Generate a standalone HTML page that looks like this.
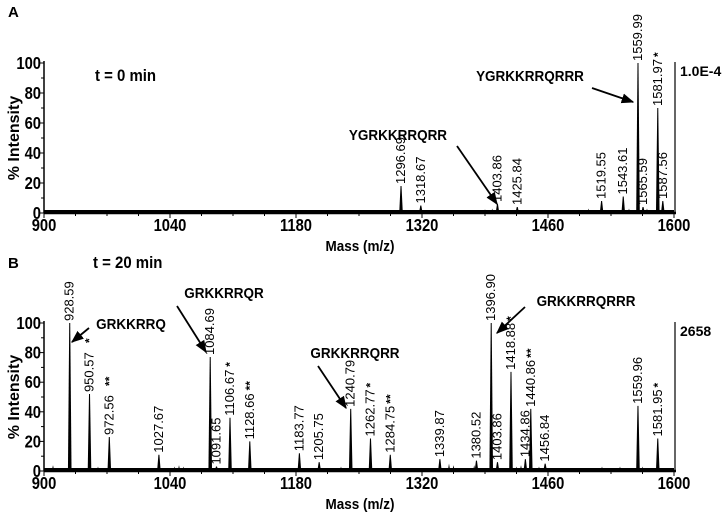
<!DOCTYPE html>
<html><head><meta charset="utf-8">
<style>
html,body{margin:0;padding:0;background:#fff;}
svg{display:block;}
.b{font-family:"Liberation Sans",Arial,sans-serif;font-weight:bold;}
.n{font-family:"Liberation Sans",Arial,sans-serif;}
</style></head>
<body>
<svg id="chart" width="723" height="515" xmlns="http://www.w3.org/2000/svg"></svg>
<script>
// ---- data ----
const xTicks = [900, 1040, 1180, 1320, 1460, 1600];
const yTicks = [0, 20, 40, 60, 80, 100];
// Panel A (t = 0 min)
const aMasses = [1296.69, 1318.67, 1403.86, 1425.84, 1519.55, 1543.61, 1559.99, 1565.59, 1581.97, 1587.56];
const aIntens = [18, 5, 6, 4, 8, 11, 100, 4, 70, 8];
const aStars  = ["", "", "", "", "", "", "", "", "*", ""];
const aMinorMasses = [1010, 1340, 1350, 1365, 1375, 1390, 1398, 1410, 1440, 1450, 1470, 1490, 1505, 1530, 1550, 1570, 1595];
const aMinorIntens = [1.5, 1.5, 2, 1.5, 2, 2.5, 3, 2, 2, 1.5, 2, 1.5, 3, 2, 3, 3, 2];
// Panel B (t = 20 min)
const bMasses = [928.59, 950.57, 972.56, 1027.67, 1084.69, 1091.65, 1106.67, 1128.66, 1183.77, 1205.75, 1240.79, 1262.77, 1284.75, 1339.87, 1380.52, 1396.90, 1403.86, 1418.88, 1434.86, 1440.86, 1456.84, 1559.96, 1581.95];
const bIntens = [100, 52, 23, 11, 77, 3, 36, 20, 12, 6, 42, 22, 11, 8, 7, 100, 6, 67, 8, 42, 5, 44, 22];
const bStars  = ["", "*", "**", "", "", "", "*", "**", "", "", "", "*", "**", "", "", "", "", "*", "", "**", "", "", "*"];
const bMinorMasses = [910, 960, 985, 1000, 1045, 1050, 1055, 1065, 1070, 1100, 1115, 1140, 1160, 1225, 1230, 1250, 1270, 1295, 1310, 1350, 1355, 1378, 1425, 1430, 1450, 1520, 1540, 1565];
const bMinorIntens = [4, 3, 2, 2, 3, 4, 3, 2, 2, 2, 2, 2, 1.5, 2, 3, 2, 2, 2, 2, 5, 4, 4, 3, 4, 3, 3, 3, 3];

const NS = "http://www.w3.org/2000/svg";
const svg = document.getElementById('chart');
function mk(tag, attrs, parent){
  const e = document.createElementNS(NS, tag);
  for (const k in attrs) e.setAttribute(k, attrs[k]);
  (parent||svg).appendChild(e);
  return e;
}
const X0 = 44, X1 = 674;
function xs(m){ return X0 + (m - 900) / 700 * (X1 - X0); }

const defs = mk('defs', {});
const mrk = mk('marker', {id:'ah', viewBox:'0 0 10 10', refX:'9', refY:'5', markerWidth:'7', markerHeight:'7', orient:'auto'}, defs);
mk('path', {d:'M0,1 L10,5 L0,9 Z', fill:'#000'}, mrk);

function panel(cfg){
  const g = mk('g', {});
  
  
  const ys = v => cfg.y0 - v / 100 * (cfg.y0 - cfg.y100);
  const yax = mk('line', {x1:X0, y1:cfg.y100 - 2, x2:X0, y2:cfg.y0, stroke:'#000', 'stroke-width':1.5}, g);
  
  
  for (let v = 0; v <= 100; v += 10) {
    const major = v % 20 === 0;
    mk('line', {x1:X0 - (major ? 5 : 3), y1:ys(v), x2:X0, y2:ys(v), stroke:'#000', 'stroke-width':1}, g);
  }
  yTicks.forEach(v => {
    const t = mk('text', {x:X0 - 3, y:ys(v) + 6, 'text-anchor':'end', 'font-size':'18', class:'b', transform:`translate(${X0-3},0) scale(0.82,1) translate(${-(X0-3)},0)`}, g);
    t.textContent = v;
    
    
  });
  const xax = mk('line', {x1:X0, y1:cfg.y0, x2:X1 + 2, y2:cfg.y0, stroke:'#000', 'stroke-width':2.5}, g);
  
  
  for (let m = 900; m <= 1600; m += 35) {
    const major = (m - 900) % 140 === 0;
    mk('line', {x1:xs(m), y1:cfg.y0, x2:xs(m), y2:cfg.y0 + (major ? 5 : 3), stroke:'#000', 'stroke-width':1}, g);
  }
  xTicks.forEach(m => {
    const cx = xs(m);
    const t = mk('text', {x:cx, y:cfg.y0 + 18, 'text-anchor':'middle', 'font-size':'18', class:'b', transform:`translate(${cx},0) scale(0.82,1) translate(${-cx},0)`}, g);
    t.textContent = m;
    
    
  });
  mk('line', {x1:X1 + 1, y1:cfg.y100 - 1, x2:X1 + 1, y2:cfg.y0, stroke:'#000', 'stroke-width':1.2}, g);
  const sc = mk('text', {x:680, y:cfg.y100 + 13, 'font-size':'14', class:'b'}, g);
  sc.textContent = cfg.scale;
  
  
  const yc = (cfg.y0 + cfg.y100) / 2;
  const yt = mk('text', {x:14, y:yc, 'text-anchor':'middle', 'font-size':'16', class:'b', transform:`rotate(-90 14 ${yc}) translate(0,5)`}, g);
  yt.textContent = '% Intensity';
  
  
  const xt = mk('text', {x:360, y:cfg.xTitleY, 'text-anchor':'middle', 'font-size':'15', class:'b', transform:`translate(360,0) scale(0.9,1) translate(-360,0)`}, g);
  xt.textContent = 'Mass (m/z)';
  
  
  cfg.minorM.forEach((m, i) => {
    const x = xs(m);
    const p = mk('path', {d:`M${x-1.2},${cfg.y0} L${x},${ys(cfg.minorI[i])} L${x+1.2},${cfg.y0} Z`, fill:'#000'}, g);
    
    
  });
  mk('line', {x1:X0, y1:cfg.y0 - 2, x2:X1, y2:cfg.y0 - 2, stroke:'#000', 'stroke-width':2}, g);
  cfg.masses.forEach((m, i) => {
    const x = xs(m), top = ys(cfg.intens[i]);
    const p = mk('path', {d:`M${x-1.8},${cfg.y0} L${x-0.5},${top} L${x+0.5},${top} L${x+1.8},${cfg.y0} Z`, fill:'#000'}, g);
    
    
    const lx = x + 4, ly = top - 2;
    const lbl = mk('text', {x:lx, y:ly, 'font-size':'13', class:'n', transform:`rotate(-90 ${lx} ${ly})`}, g);
    lbl.textContent = m.toFixed(2);
    
    
    if (cfg.stars[i]) {
      const sx = x - 0.5, sy = ly - 48;
      const st = mk('text', {x:sx, y:sy, 'font-size':'12', class:'b', 'text-anchor':'middle', transform:`rotate(-90 ${sx} ${sy})`}, g);
      st.setAttribute('text-anchor', 'start');
      st.setAttribute('transform', `rotate(-90 ${lx} ${sy})`);
      st.setAttribute('x', lx + 1);
      st.textContent = cfg.stars[i];
      
      
    }
  });
  cfg.notes.forEach(n => {
    const t = mk('text', {x:n.tx, y:n.ty, 'text-anchor':'middle', 'font-size':'15', class:'b', transform:`translate(${n.tx},0) scale(0.9,1) translate(${-n.tx},0)`}, g);
    t.textContent = n.text;
    
    
    const a = mk('line', {x1:n.ax1, y1:n.ay1, x2:n.ax2, y2:n.ay2, stroke:'#000', 'stroke-width':1.8, 'marker-end':'url(#ah)'}, g);
    
    
  });
  const pl = mk('text', {x:8, y:cfg.letterY, 'font-size':'15', class:'b'}, g);
  pl.textContent = cfg.letter;
  
  
  const tl = mk('text', {x:cfg.timeX, y:cfg.timeY, 'font-size':'17', class:'b', transform:`translate(${cfg.timeX},0) scale(0.88,1) translate(${-cfg.timeX},0)`}, g);
  tl.textContent = cfg.time;
  
  
}

panel({name:'panel-a', y0:213, y100:63, xTitleY:251, scale:'1.0E-4', letter:'A', letterY:17,
  time:'t = 0 min', timeX:95, timeY:81,
  masses:aMasses, intens:aIntens, stars:aStars, minorM:aMinorMasses, minorI:aMinorIntens,
  notes:[
    {text:'YGRKKRRQRRR', tx:530, ty:81, ax1:592, ay1:88, ax2:633, ay2:102},
    {text:'YGRKKRRQRR', tx:398, ty:140, ax1:457, ay1:146, ax2:497, ay2:204}
  ]});
panel({name:'panel-b', y0:471, y100:323, xTitleY:509, scale:'2658', letter:'B', letterY:268,
  time:'t = 20 min', timeX:93, timeY:268,
  masses:bMasses, intens:bIntens, stars:bStars, minorM:bMinorMasses, minorI:bMinorIntens,
  notes:[
    {text:'GRKKRRQ', tx:131, ty:329, ax1:89, ay1:328, ax2:72, ay2:342},
    {text:'GRKKRRQR', tx:224, ty:298, ax1:177, ay1:306, ax2:206, ay2:352},
    {text:'GRKKRRQRR', tx:355, ty:358, ax1:318, ay1:366, ax2:346, ay2:408},
    {text:'GRKKRRQRRR', tx:586, ty:306, ax1:525, ay1:307, ax2:497, ay2:333}
  ]});
</script>
</body></html>
